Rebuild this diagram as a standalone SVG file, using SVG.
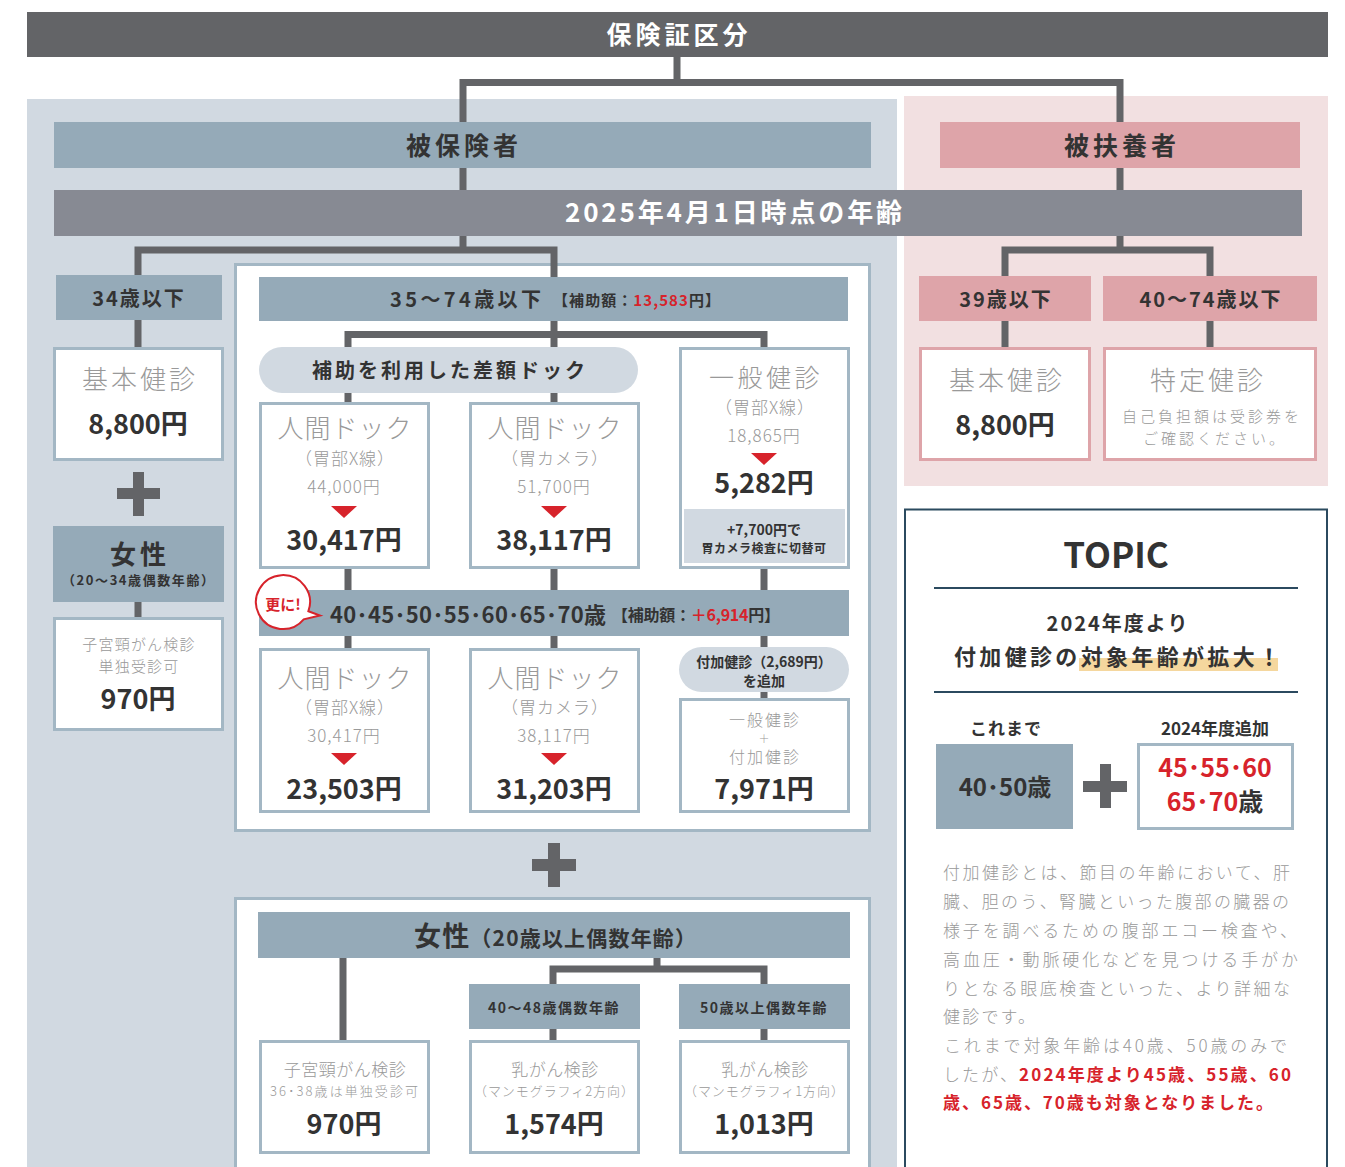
<svg xmlns="http://www.w3.org/2000/svg" width="1345" height="1167" viewBox="0 0 1345 1167">
<style>
text{font-family:'Noto Sans CJK JP','Noto Sans CJK SC','Noto Sans',sans-serif;}
.c{text-anchor:middle}
.b{font-weight:700;fill:#333}
.l{font-weight:300;fill:#999}
.w{font-weight:700;fill:#fff}
.red{fill:#d7232b}
.bar{fill:#95aab8}
.pbar{fill:#dea4a9}
.box{fill:#fff;stroke:#a3b7c4;stroke-width:3}
.pbox{fill:#fff;stroke:#dea4a9;stroke-width:3}
.pill{fill:#d1d9e1}
.conn{stroke:#636467;stroke-width:7;fill:none}
.tri{fill:#d7232b}
.plus{fill:#636467}
.price{font-weight:700;fill:#333;font-size:27px}
.big{font-size:26px}
.mid{font-size:17px;letter-spacing:1px}
</style>
<defs>
<path id="tri" d="M-13,0 H13 L0,12 Z"/>
</defs>

<g id="backgrounds">
<rect x="27" y="99" width="870" height="1068" fill="#d1d9e1"/>
<rect x="904" y="96" width="424" height="390" fill="#f2e0e1"/>
<rect x="235.5" y="264.5" width="634" height="566" fill="#fff" stroke="#a3b7c4" stroke-width="3"/>
<rect x="235.5" y="898.5" width="634" height="290" fill="#fff" stroke="#a3b7c4" stroke-width="3"/>
<rect x="905" y="509.5" width="422" height="690" fill="#fff" stroke="#2b4a5f" stroke-width="2"/>
</g>

<g id="connectors">
<path class="conn" d="M677,57 V82.5 M463,122 V82.5 H1120 V122"/>
<path class="conn" d="M463,168 V190 M1120,168 V190"/>
<path class="conn" d="M463,236 V250 M138,275 V250 H554 V277"/>
<path class="conn" d="M1120,236 V250 M1005,276 V250 H1210 V276"/>
<path class="conn" d="M138,320 V347 M1005,321 V347 M1210,321 V347 M138,602 V617"/>
<path class="conn" d="M554,321 V402 M348,402 V334.5 H764 V347"/>
<path class="conn" d="M348,569 V648 M554,569 V648 M764,569 V698"/>
<path class="conn" d="M343,958 V1040 M657,958 V969 M553,985 V969 H764 V985 M553,1029 V1040 M764,1029 V1040"/>
</g>

<g id="n-top">
<rect x="27" y="12" width="1301" height="45" fill="#636467"/>
<text class="c w" x="679" y="44" font-size="25" letter-spacing="4">保険証区分</text>
</g>
<g id="n-hihokensha">
<rect x="54" y="122" width="817" height="46" class="bar"/>
<text class="c b" x="464" y="155" font-size="25" letter-spacing="4">被保険者</text>
</g>
<g id="n-hifuyousha">
<rect x="940" y="122" width="360" height="46" class="pbar"/>
<text class="c b" x="1122" y="155" font-size="25" letter-spacing="4">被扶養者</text>
</g>
<g id="n-age">
<rect x="54" y="190" width="1248" height="46" fill="#878a93"/>
<text class="w" x="565" y="222" font-size="26" textLength="337" lengthAdjust="spacing">2025年4月1日時点の年齢</text>
</g>

<g id="n-34">
<rect x="56" y="275" width="166" height="45" class="bar"/>
<text class="c b" x="139" y="306" font-size="20" letter-spacing="2">34歳以下</text>
</g>
<g id="n-kihon-l">
<rect x="54.5" y="348.5" width="168" height="111" class="box"/>
<text class="c l big" x="140" y="389" letter-spacing="3">基本健診</text>
<text class="c price" x="138" y="434">8,800円</text>
</g>
<rect class="plus" x="117" y="488" width="43" height="11"/>
<rect class="plus" x="133" y="472" width="11" height="44"/>
<g id="n-josei-l">
<rect x="53" y="526" width="171" height="76" class="bar"/>
<text class="c b big" x="140" y="564" letter-spacing="4">女性</text>
<text class="b" x="62" y="585" font-size="13" textLength="152" lengthAdjust="spacing">（20〜34歳偶数年齢）</text>
</g>
<g id="n-shikyu-l">
<rect x="54.5" y="618.5" width="168" height="111" class="box"/>
<text class="c l" x="139" y="650" font-size="15" letter-spacing="1.2">子宮頸がん検診</text>
<text class="c l" x="139" y="672" font-size="15" letter-spacing="1.2">単独受診可</text>
<text class="c price" x="138" y="709">970円</text>
</g>

<g id="n-3574">
<rect x="259" y="277" width="589" height="44" class="bar"/>
<text class="b" x="390" y="307" font-size="20" textLength="151" lengthAdjust="spacing">35〜74歳以下</text>
<text class="b" x="553" y="306" font-size="15" textLength="167" lengthAdjust="spacing">【補助額：<tspan class="red">13,583</tspan>円】</text>
</g>
<g id="n-sagaku">
<rect x="259" y="347" width="379" height="46" rx="23" class="pill"/>
<text class="c b" x="450" y="378" font-size="20" letter-spacing="3">補助を利用した差額ドック</text>
</g>
<g id="n-dock-x1">
<rect x="260.5" y="403.5" width="168" height="164" class="box"/>
<text class="c l big" x="345" y="438" letter-spacing="1">人間ドック</text>
<text class="c l mid" x="345" y="465">（胃部X線）</text>
<text class="c l mid" x="344" y="493">44,000円</text>
<use href="#tri" x="344" y="506" class="tri"/>
<text class="c price" x="344" y="550">30,417円</text>
</g>
<g id="n-dock-c1">
<rect x="470.5" y="403.5" width="168" height="164" class="box"/>
<text class="c l big" x="555" y="438" letter-spacing="1">人間ドック</text>
<text class="c l mid" x="555" y="465">（胃カメラ）</text>
<text class="c l mid" x="554" y="493">51,700円</text>
<use href="#tri" x="554" y="506" class="tri"/>
<text class="c price" x="554" y="550">38,117円</text>
</g>
<g id="n-ippan1">
<rect x="680.5" y="348.5" width="168" height="219" class="box"/>
<text class="c l" x="766" y="387" font-size="25" letter-spacing="3.5">一般健診</text>
<text class="c l mid" x="765" y="414">（胃部X線）</text>
<text class="c l mid" x="764" y="442">18,865円</text>
<use href="#tri" x="764" y="453" class="tri"/>
<text class="c price" x="764" y="493">5,282円</text>
<rect x="684" y="509" width="161" height="54" class="pill"/>
<text class="c b" x="764" y="535" font-size="14">+7,700円で</text>
<text class="c b" x="764" y="553" font-size="12" letter-spacing="0.5">胃カメラ検査に切替可</text>
</g>

<g id="n-4070">
<rect x="259" y="590" width="590" height="46" class="bar"/>
<text class="b" x="330" y="623" font-size="22" textLength="276" lengthAdjust="spacing">40･45･50･55･60･65･70歳</text>
<text class="b" x="612" y="621" font-size="16" textLength="168" lengthAdjust="spacing">【補助額：<tspan class="red">＋6,914</tspan>円】</text>
</g>
<g id="n-sarani">
<path d="M308.4,611.2 L320,615.5 L303.7,619.4 A27,27 0 1 1 308.4,611.2 Z" fill="#fff" stroke="#d7232b" stroke-width="2"/>
<text class="c red" x="283" y="610" font-size="15" font-weight="700">更に!</text>
</g>
<g id="n-dock-x2">
<rect x="260.5" y="649.5" width="168" height="162" class="box"/>
<text class="c l big" x="345" y="688" letter-spacing="1">人間ドック</text>
<text class="c l mid" x="345" y="714">（胃部X線）</text>
<text class="c l mid" x="344" y="742">30,417円</text>
<use href="#tri" x="344" y="753" class="tri"/>
<text class="c price" x="344" y="799">23,503円</text>
</g>
<g id="n-dock-c2">
<rect x="470.5" y="649.5" width="168" height="162" class="box"/>
<text class="c l big" x="555" y="688" letter-spacing="1">人間ドック</text>
<text class="c l mid" x="555" y="714">（胃カメラ）</text>
<text class="c l mid" x="554" y="742">38,117円</text>
<use href="#tri" x="554" y="753" class="tri"/>
<text class="c price" x="554" y="799">31,203円</text>
</g>
<g id="n-fuka-pill">
<rect x="679" y="647" width="170" height="45" rx="22.5" class="pill"/>
<text class="c b" x="764" y="667" font-size="14">付加健診（2,689円）</text>
<text class="c b" x="764" y="686" font-size="14">を追加</text>
</g>
<g id="n-ippan2">
<rect x="680.5" y="699.5" width="168" height="112" class="box"/>
<text class="c l" x="765" y="726" font-size="16" letter-spacing="2">一般健診</text>
<text class="c l" x="764" y="743" font-size="11">＋</text>
<text class="c l" x="765" y="763" font-size="16" letter-spacing="2">付加健診</text>
<text class="c price" x="764" y="799">7,971円</text>
</g>

<rect class="plus" x="532" y="859" width="44" height="12"/>
<rect class="plus" x="548" y="843" width="12" height="44"/>

<g id="n-josei">
<rect x="258" y="912" width="592" height="46" class="bar"/>
<text class="b" x="414" y="946" font-size="21" textLength="282" lengthAdjust="spacing"><tspan font-size="27">女性</tspan>（20歳以上偶数年齢）</text>
</g>
<g id="n-4048">
<rect x="469" y="984" width="171" height="45" class="bar"/>
<text class="c b" x="554" y="1013" font-size="14" letter-spacing="1.5">40〜48歳偶数年齢</text>
</g>
<g id="n-50">
<rect x="679" y="984" width="171" height="45" class="bar"/>
<text class="c b" x="764" y="1013" font-size="14" letter-spacing="1.5">50歳以上偶数年齢</text>
</g>
<g id="n-shikyu">
<rect x="260.5" y="1041.5" width="168" height="111" class="box"/>
<text class="c l" x="345" y="1076" font-size="17" letter-spacing="0.5">子宮頸がん検診</text>
<text class="l" x="270" y="1096" font-size="13" textLength="148" lengthAdjust="spacing">36･38歳は単独受診可</text>
<text class="c price" x="344" y="1134">970円</text>
</g>
<g id="n-nyu2">
<rect x="470.5" y="1041.5" width="168" height="111" class="box"/>
<text class="c l" x="555" y="1076" font-size="17" letter-spacing="0.5">乳がん検診</text>
<text class="l" x="474" y="1096" font-size="13" textLength="160" lengthAdjust="spacing">（マンモグラフィ2方向）</text>
<text class="c price" x="554" y="1134">1,574円</text>
</g>
<g id="n-nyu1">
<rect x="680.5" y="1041.5" width="168" height="111" class="box"/>
<text class="c l" x="765" y="1076" font-size="17" letter-spacing="0.5">乳がん検診</text>
<text class="l" x="684" y="1096" font-size="13" textLength="160" lengthAdjust="spacing">（マンモグラフィ1方向）</text>
<text class="c price" x="764" y="1134">1,013円</text>
</g>

<g id="n-39">
<rect x="919" y="276" width="172" height="45" class="pbar"/>
<text class="c b" x="1006" y="307" font-size="20" letter-spacing="2">39歳以下</text>
</g>
<g id="n-4074">
<rect x="1103" y="276" width="214" height="45" class="pbar"/>
<text class="c b" x="1211" y="307" font-size="20" letter-spacing="2">40〜74歳以下</text>
</g>
<g id="n-kihon-r">
<rect x="920.5" y="348.5" width="169" height="111" class="pbox"/>
<text class="c l big" x="1007" y="390" letter-spacing="3">基本健診</text>
<text class="c price" x="1005" y="435">8,800円</text>
</g>
<g id="n-tokutei">
<rect x="1104.5" y="348.5" width="211" height="111" class="pbox"/>
<text class="c l big" x="1208" y="390" letter-spacing="3">特定健診</text>
<text class="c l" x="1212" y="422" font-size="15" letter-spacing="3">自己負担額は受診券を</text>
<text class="c l" x="1215" y="444" font-size="15" letter-spacing="3">ご確認ください。</text>
</g>

<g id="n-topic">
<text class="c b" x="1116" y="568" font-size="35" fill="#222">TOPIC</text>
<line x1="934" y1="588" x2="1298" y2="588" stroke="#2b4a5f" stroke-width="2"/>
<text class="c b" x="1118" y="631" font-size="20" letter-spacing="2">2024年度より</text>
<rect x="1079" y="658" width="199" height="13" fill="#f5d79e"/>
<text class="b" x="954" y="665" font-size="22" textLength="326" lengthAdjust="spacing">付加健診の対象年齢が拡大！</text>
<line x1="934" y1="692" x2="1298" y2="692" stroke="#2b4a5f" stroke-width="2"/>
<text class="c b" x="1006" y="735" font-size="17" letter-spacing="1">これまで</text>
<text class="c b" x="1215" y="735" font-size="17">2024年度追加</text>
<rect x="936" y="744" width="137" height="85" class="bar"/>
<text class="c b" x="1005" y="796" font-size="24">40･50歳</text>
<rect class="plus" x="1083" y="781" width="44" height="11"/>
<rect class="plus" x="1100" y="764" width="11" height="44"/>
<rect x="1138.5" y="744.5" width="154" height="84" class="box"/>
<text class="c b red" x="1215" y="777" font-size="25">45･55･60</text>
<text class="c b" x="1215" y="811" font-size="25"><tspan class="red">65･70</tspan>歳</text>
<g class="l" font-size="17" fill="#8c8c8c">
<text x="943" y="879" textLength="347" lengthAdjust="spacing">付加健診とは、節目の年齢において、肝</text>
<text x="943" y="908" textLength="346" lengthAdjust="spacing">臓、胆のう、腎臓といった腹部の臓器の</text>
<text x="943" y="937" textLength="354" lengthAdjust="spacing">様子を調べるための腹部エコー検査や、</text>
<text x="943" y="966" textLength="355" lengthAdjust="spacing">高血圧・動脈硬化などを見つける手がか</text>
<text x="943" y="995" textLength="347" lengthAdjust="spacing">りとなる眼底検査といった、より詳細な</text>
<text x="943" y="1023" letter-spacing="2.2">健診です。</text>
<text x="944" y="1052" textLength="343" lengthAdjust="spacing">これまで対象年齢は40歳、50歳のみで</text>
<text x="943" y="1081" textLength="348" lengthAdjust="spacing">したが、<tspan class="red" font-weight="700">2024年度より45歳、55歳、60</tspan></text>
<text x="943" y="1109" textLength="330" lengthAdjust="spacing" class="red" font-weight="700">歳、65歳、70歳も対象となりました。</text>
</g>
</g>
</svg>
